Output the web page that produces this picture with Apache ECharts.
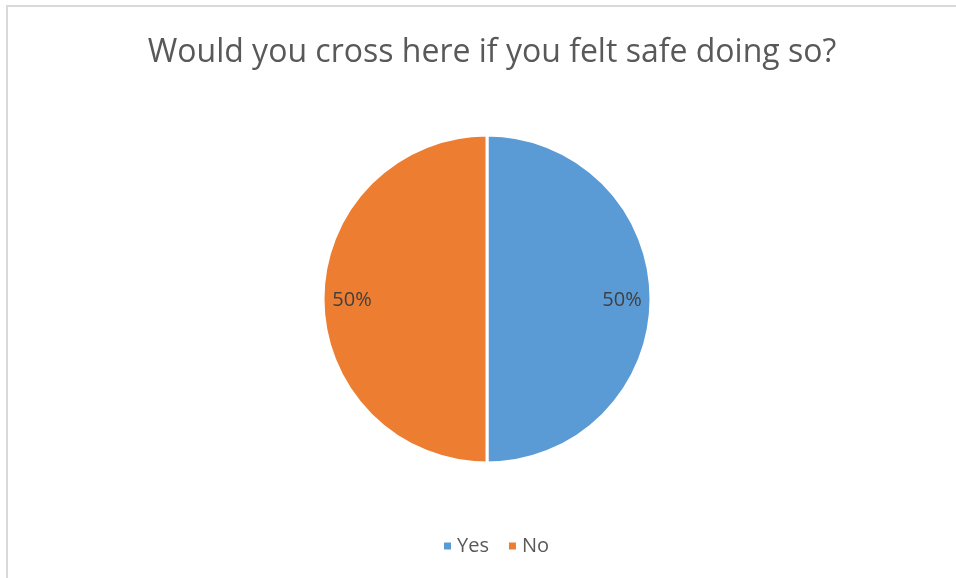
<!DOCTYPE html>
<html>
<head>
<meta charset="utf-8">
<script src="https://cdn.jsdelivr.net/npm/echarts@6/dist/echarts.min.js"></script>
<style>
  html, body { margin: 0; padding: 0; background: #fff; }
  #chart { width: 956px; height: 578px; }
</style>
</head>
<body>
<div id="chart"></div>
<script>
const categories = ['Yes', 'No']
const values = [50, 50]
const colors = ['#5B9BD5', '#ED7D31']

const chart = echarts.init(document.getElementById('chart'))

const pieData = categories.map((name, i) => ({
  name,
  value: values[i],
  itemStyle: { color: colors[i] }
}))

const option = {
  animation: false,
  title: {
    text: 'Would you cross here if you felt safe doing so?',
    left: 487,
    top: 32,
    textAlign: 'center',
    textStyle: {
      fontFamily: 'Open Sans',
      fontSize: 32,
      fontWeight: 'normal',
      color: '#595959'
    }
  },
  legend: {
    data: categories,
    top: 531,
    left: 437,
    itemWidth: 9,
    itemHeight: 9,
    itemGap: 18,
    icon: 'rect',
    textStyle: { fontFamily: 'Open Sans', fontSize: 20, color: '#595959' }
  },
  graphic: [{
    type: 'rect',
    shape: { x: 7, y: 6, width: 1200, height: 1000 },
    style: { fill: 'none', stroke: '#d9d9d9', lineWidth: 2 },
    silent: true
  }],
  series: [
    {
      type: 'pie',
      center: [487, 299],
      radius: 164,
      startAngle: 90,
      label: { show: false },
      labelLine: { show: false },
      itemStyle: { borderColor: '#fff', borderWidth: 3 },
      data: pieData
    },
    {
      // transparent ring used only to place the percent labels near the rim
      type: 'pie',
      center: [487, 300],
      radius: [100, 164],
      startAngle: 90,
      silent: true,
      label: {
        show: true,
        position: 'inside',
        formatter: '{d}%',
        fontFamily: 'Open Sans',
        fontSize: 20,
        color: '#404040'
      },
      labelLine: { show: false },
      itemStyle: { color: 'rgba(0,0,0,0)' },
      data: categories.map((name, i) => ({ name, value: values[i] }))
    }
  ]
}

chart.setOption(option)
</script>
</body>
</html>
